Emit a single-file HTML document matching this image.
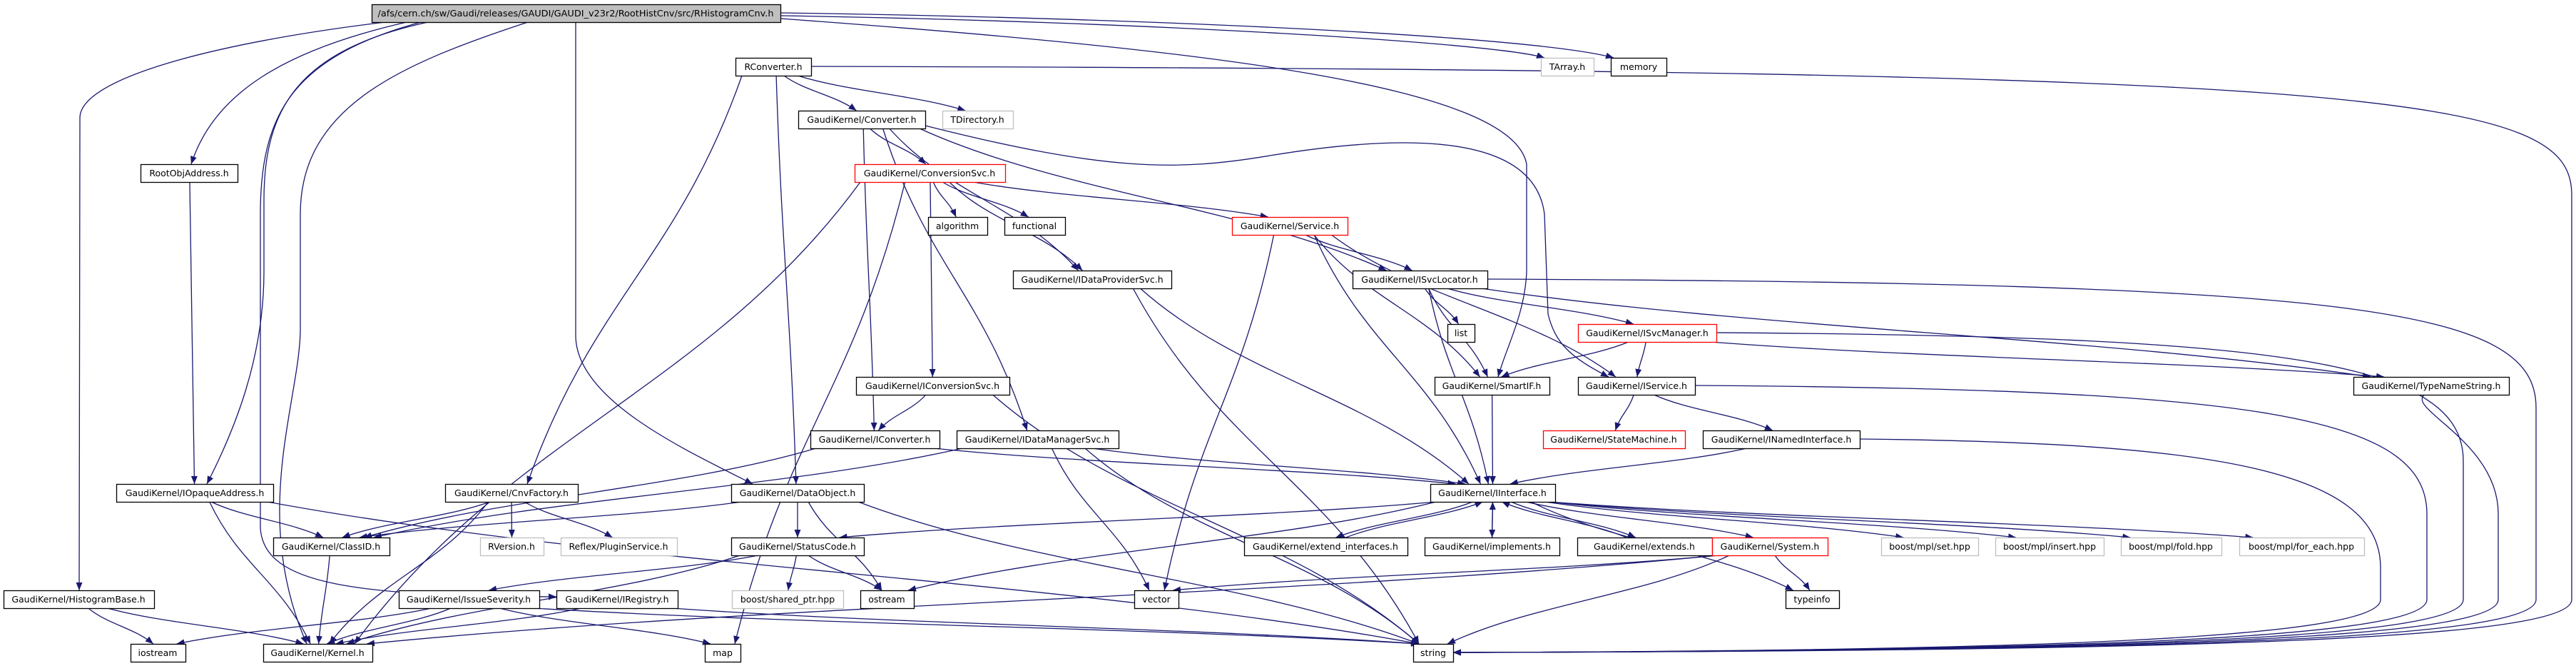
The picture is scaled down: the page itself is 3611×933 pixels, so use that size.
<!DOCTYPE html>
<html><head><meta charset="utf-8"><style>
html,body{margin:0;padding:0;background:#fff;}
svg{display:block;}
text{font-family:"DejaVu Sans","Liberation Sans",sans-serif;font-size:12.5px;fill:#000;}
</style></head><body>
<svg id="g" width="3611" height="933" viewBox="0 0 3611 933" xmlns="http://www.w3.org/2000/svg">
<defs><marker id="ar" markerUnits="userSpaceOnUse" markerWidth="12" markerHeight="9" refX="11" refY="4.5" orient="auto"><path d="M0,0 L11,4.5 L0,9 z" fill="#191970"/></marker></defs>
<g id="edges" fill="none" stroke="#191970" stroke-width="1.3"></g>
<g id="nodes"></g>
<g id="labels">
<text x="807" y="23" text-anchor="middle" textLength="555" lengthAdjust="spacingAndGlyphs">/afs/cern.ch/sw/Gaudi/releases/GAUDI/GAUDI_v23r2/RootHistCnv/src/RHistogramCnv.h</text>
<text x="1084" y="98" text-anchor="middle">RConverter.h</text>
<text x="265" y="247" text-anchor="middle">RootObjAddress.h</text>
<text x="1208" y="172" text-anchor="middle">GaudiKernel/Converter.h</text>
<text x="1370" y="172" text-anchor="middle">TDirectory.h</text>
<text x="2197" y="98" text-anchor="middle">TArray.h</text>
<text x="2297" y="98" text-anchor="middle">memory</text>
<text x="1303" y="247" text-anchor="middle">GaudiKernel/ConversionSvc.h</text>
<text x="1342" y="321" text-anchor="middle">algorithm</text>
<text x="1450" y="321" text-anchor="middle">functional</text>
<text x="1808" y="321" text-anchor="middle">GaudiKernel/Service.h</text>
<text x="1531" y="396" text-anchor="middle">GaudiKernel/IDataProviderSvc.h</text>
<text x="1990" y="396" text-anchor="middle">GaudiKernel/ISvcLocator.h</text>
<text x="2048" y="471" text-anchor="middle">list</text>
<text x="2309" y="471" text-anchor="middle">GaudiKernel/ISvcManager.h</text>
<text x="3408" y="545" text-anchor="middle">GaudiKernel/TypeNameString.h</text>
<text x="2091" y="545" text-anchor="middle">GaudiKernel/SmartIF.h</text>
<text x="2294" y="545" text-anchor="middle">GaudiKernel/IService.h</text>
<text x="1307" y="545" text-anchor="middle">GaudiKernel/IConversionSvc.h</text>
<text x="1226" y="620" text-anchor="middle">GaudiKernel/IConverter.h</text>
<text x="1454" y="620" text-anchor="middle">GaudiKernel/IDataManagerSvc.h</text>
<text x="2262" y="620" text-anchor="middle">GaudiKernel/StateMachine.h</text>
<text x="2497" y="620" text-anchor="middle">GaudiKernel/INamedInterface.h</text>
<text x="2092" y="695" text-anchor="middle">GaudiKernel/IInterface.h</text>
<text x="273" y="695" text-anchor="middle">GaudiKernel/IOpaqueAddress.h</text>
<text x="717" y="695" text-anchor="middle">GaudiKernel/CnvFactory.h</text>
<text x="1118" y="695" text-anchor="middle">GaudiKernel/DataObject.h</text>
<text x="464" y="770" text-anchor="middle">GaudiKernel/ClassID.h</text>
<text x="717" y="770" text-anchor="middle">RVersion.h</text>
<text x="867" y="770" text-anchor="middle">Reflex/PluginService.h</text>
<text x="1118" y="770" text-anchor="middle">GaudiKernel/StatusCode.h</text>
<text x="1858" y="770" text-anchor="middle">GaudiKernel/extend_interfaces.h</text>
<text x="2091" y="770" text-anchor="middle">GaudiKernel/implements.h</text>
<text x="2305" y="770" text-anchor="middle">GaudiKernel/extends.h</text>
<text x="2481" y="770" text-anchor="middle">GaudiKernel/System.h</text>
<text x="2705" y="770" text-anchor="middle">boost/mpl/set.hpp</text>
<text x="2873" y="770" text-anchor="middle">boost/mpl/insert.hpp</text>
<text x="3043" y="770" text-anchor="middle">boost/mpl/fold.hpp</text>
<text x="3226" y="770" text-anchor="middle">boost/mpl/for_each.hpp</text>
<text x="110" y="844" text-anchor="middle">GaudiKernel/HistogramBase.h</text>
<text x="657" y="844" text-anchor="middle">GaudiKernel/IssueSeverity.h</text>
<text x="865" y="844" text-anchor="middle">GaudiKernel/IRegistry.h</text>
<text x="1104" y="844" text-anchor="middle">boost/shared_ptr.hpp</text>
<text x="1243" y="844" text-anchor="middle">ostream</text>
<text x="1621" y="844" text-anchor="middle">vector</text>
<text x="2540" y="844" text-anchor="middle">typeinfo</text>
<text x="221" y="919" text-anchor="middle">iostream</text>
<text x="445" y="919" text-anchor="middle">GaudiKernel/Kernel.h</text>
<text x="1013" y="919" text-anchor="middle">map</text>
<text x="2009" y="919" text-anchor="middle">string</text>
</g>
</svg>
<script>
var N={
main:[521,6,1094,'f'],rconv:[1031,81,1137],rootobj:[197,230,333],conv:[1119,155,1297],tdir:[1321,155,1420,'g'],
tarray:[2160,81,2234,'g'],memory:[2258,81,2336],convsvc:[1198,230,1409,'r'],algo:[1301,304,1384],func:[1408,304,1493],
service:[1727,304,1889,'r'],idps:[1420,379,1642],isl:[1896,379,2085],list:[2029,454,2067],ism:[2212,454,2406,'r'],
tns:[3299,528,3517],smartif:[2011,528,2172],iservice:[2212,528,2376],iconvsvc:[1200,528,1415],iconv:[1136,603,1317],
idms:[1341,603,1568],sm:[2163,603,2362,'r'],ini:[2387,603,2607],iint:[2005,678,2180],ioa:[163,678,383],cnvf:[624,678,810],
dobj:[1025,678,1211],classid:[383,753,546],rver:[673,753,762,'g'],plug:[786,753,949,'g'],sc:[1025,753,1211],
ext_if:[1744,753,1973],impl:[1997,753,2186],extends:[2211,753,2400],system:[2400,753,2562,'r'],bset:[2637,753,2773,'g'],
bins:[2797,753,2949,'g'],bfold:[2973,753,3114,'g'],bfe:[3139,753,3314,'g'],hb:[5,827,216],iss:[559,827,756],ireg:[780,827,950],
bsp:[1026,827,1182,'g'],ostream:[1206,827,1281],vector:[1590,827,1652],typeinfo:[2503,827,2578],iostream:[183,902,260],
kernel:[369,902,522],map:[988,902,1038],string:[1981,902,2037]};
var H=25,ns='http://www.w3.org/2000/svg';
var ng=document.getElementById('nodes'),eg=document.getElementById('edges');
for(var k in N){var n=N[k],r=document.createElementNS(ns,'rect');
r.setAttribute('x',n[0]+.5);r.setAttribute('y',n[1]+.5);r.setAttribute('width',n[2]-n[0]);r.setAttribute('height',H);
r.setAttribute('fill',n[3]=='f'?'#bfbfbf':'#fff');r.setAttribute('stroke',n[3]=='g'?'#bfbfbf':n[3]=='r'?'#ff0000':'#000');
r.setAttribute('stroke-width',1.3);ng.appendChild(r);}
function P(d){var p=document.createElementNS(ns,'path');p.setAttribute('d',d);p.setAttribute('marker-end','url(#ar)');eg.appendChild(p);}
function cl(v,a,b){return Math.max(a,Math.min(b,v));}
function E(a,b){var A=N[a],B=N[b],ac=(A[0]+A[2])/2,bc=(B[0]+B[2])/2,sx,sy,tx,ty;
 sx=cl(ac+(bc-ac)*0.12,A[0]+8,A[2]-8);tx=cl(bc+(ac-bc)*0.06,B[0]+8,B[2]-8);
 if(B[1]>=A[1]+H){sy=A[1]+H;ty=B[1];}else{sy=A[1];ty=B[1]+H;}
 var dx=tx-sx,dy=ty-sy;
 P('M'+sx+','+sy+' C'+(sx+dx*0.3)+','+(sy+dy*0.45)+' '+(tx-dx*0.3)+','+(ty-dy*0.45)+' '+tx+','+ty);}
function L(a,X){var A=N[a],ym=A[1]+12;
 P('M'+A[2]+','+ym+' C'+(X-250)+','+(ym+5)+' '+X+','+(ym+40)+' '+X+','+(ym+180)+' L'+X+',840 C'+X+',895 '+(X-500)+',912 2037,914');}
[['rconv','conv'],['rconv','tdir'],['rconv','cnvf'],['rconv','dobj'],['rootobj','ioa'],
['conv','convsvc'],['conv','iconv'],['conv','idps'],['conv','isl'],['conv','idms'],
['convsvc','algo'],['convsvc','func'],['convsvc','service'],['convsvc','idps'],['convsvc','iconvsvc'],['convsvc','kernel'],['convsvc','map'],
['service','vector'],['service','smartif'],['service','isl'],['service','iservice'],['service','iint'],
['idps','iint'],['idps','string'],['isl','list'],['isl','smartif'],['isl','iint'],['isl','ism'],['isl','tns'],
['ism','smartif'],['ism','iservice'],['ism','tns'],['iconvsvc','iconv'],['iconvsvc','string'],
['iconv','classid'],['iconv','iint'],['idms','classid'],['idms','iint'],['idms','string'],['idms','vector'],
['smartif','iint'],['iservice','sm'],['iservice','ini'],['ini','iint'],
['iint','sc'],['iint','ostream'],['iint','ext_if'],['iint','impl'],['iint','extends'],['iint','system'],['iint','bset'],['iint','bins'],['iint','bfold'],['iint','bfe'],['iint','typeinfo'],
['ext_if','iint'],['impl','iint'],['extends','iint'],
['system','kernel'],['system','vector'],['system','string'],['system','typeinfo'],
['ioa','classid'],['ioa','kernel'],['ioa','string'],['cnvf','classid'],['cnvf','kernel'],['cnvf','rver'],['cnvf','plug'],
['dobj','classid'],['dobj','sc'],['dobj','ostream'],['dobj','string'],['classid','kernel'],
['sc','iss'],['sc','kernel'],['sc','bsp'],['sc','ostream'],
['iss','iostream'],['iss','kernel'],['iss','map'],['iss','string'],['ireg','kernel'],['ireg','string'],
['hb','iostream'],['hb','kernel']].forEach(function(e){E(e[0],e[1]);});
L('rconv',3605);L('isl',3555);L('tns',3502);L('ism',3453);L('iservice',3402);L('ini',3337);
P('M1094,22 C1600,30 2100,60 2165,81');
P('M1094,18 C1600,25 2150,50 2262,81');
P('M1094,26 C1700,70 2120,120 2140,230 L2140,380 C2138,440 2110,490 2100,528');
P('M540,31 C300,60 112,110 112,165 L111,827');
P('M570,31 C400,70 300,130 268,230');
P('M600,31 C420,70 370,150 370,280 L370,380 C370,500 330,600 290,678');
P('M740,31 C560,90 421,150 421,300 L421,460 C421,560 350,720 430,902');
P('M590,31 C410,80 365,160 365,300 L365,740 C370,820 500,835 780,836');
P('M807,31 L807,470 C807,560 960,630 1055,678');
P('M1297,176 C1550,240 1650,240 1780,218 C1950,190 2150,180 2165,300 L2170,440 C2180,480 2200,500 2255,528');
</script>
</body></html>
